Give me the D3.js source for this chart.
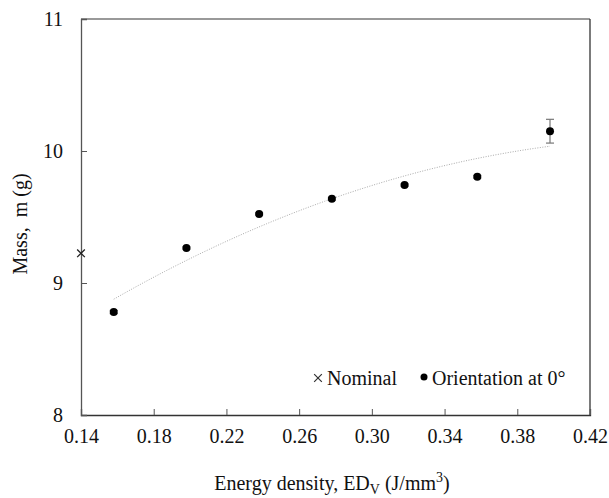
<!DOCTYPE html>
<meta charset="utf-8">
<script src="https://d3js.org/d3.v7.min.js"></script>
<body style="margin:0">
<div id="my_dataviz"></div>
<script>
    // data
    const energy = [0.158, 0.198, 0.238, 0.278, 0.318, 0.358, 0.398];
    const mass = [8.78, 9.265, 9.523, 9.638, 9.742, 9.805, 10.15];
    const massErr = [0.012, 0.008, 0.008, 0.01, 0.008, 0.01, 0.09];
    const nominal = [{ x: 0.14, y: 9.225 }];
    const xTicks = [0.14, 0.18, 0.22, 0.26, 0.30, 0.34, 0.38, 0.42];
    const yTicks = [8, 9, 10, 11];

    const FONT = "'Liberation Serif'";

    const margin = { top: 19, right: 19, bottom: 83, left: 81 },
        width = 609 - margin.left - margin.right,
        height = 498 - margin.top - margin.bottom;

    const svg = d3.select("#my_dataviz")
        .append("svg")
        .attr("width", 609)
        .attr("height", 498)
        .append("g")
        .attr("transform", `translate(${margin.left},${margin.top})`);

    const x = d3.scaleLinear().domain([0.14, 0.42]).range([0, width]);
    const y = d3.scaleLinear().domain([8, 11]).range([height, 0]);

    // helper for serif text
    function serif(sel, size) {
        return sel.style("font-family", FONT, "important")
            .style("font-size", size + "px", "important")
            .style("fill", "#111");
    }

    // frame: top and right
    svg.append("line").attr("x1", 0).attr("x2", width).attr("y1", 0).attr("y2", 0)
        .attr("stroke", "#777").attr("stroke-width", 1.3);
    svg.append("line").attr("x1", width).attr("x2", width).attr("y1", 0).attr("y2", height)
        .attr("stroke", "#333").attr("stroke-width", 1.3);

    // X axis, ticks inside
    const xAxis = svg.append("g")
        .attr("transform", `translate(0,${height})`)
        .call(d3.axisBottom(x).tickValues(xTicks).tickSize(-6).tickPadding(14).tickFormat(d3.format(".2f")));
    xAxis.attr("font-family", null).attr("font-size", null);
    xAxis.select(".domain").attr("stroke", "#333").attr("stroke-width", 1.3);
    xAxis.selectAll(".tick line").attr("stroke", "#555");
    serif(xAxis.selectAll("text"), 20);

    // Y axis, ticks inside
    const yAxis = svg.append("g")
        .call(d3.axisLeft(y).tickValues(yTicks).tickSize(-6).tickPadding(18).tickFormat(d3.format("d")));
    yAxis.attr("font-family", null).attr("font-size", null);
    yAxis.select(".domain").attr("stroke", "#555").attr("stroke-width", 1.3);
    yAxis.selectAll(".tick line").attr("stroke", "#555");
    serif(yAxis.selectAll("text"), 20);

    // quadratic trendline (least squares on the data)
    function polyFit2(xs, ys) {
        let s = [0, 0, 0, 0, 0], t = [0, 0, 0];
        xs.forEach((xi, i) => {
            for (let k = 0; k < 5; k++) s[k] += Math.pow(xi, k);
            for (let k = 0; k < 3; k++) t[k] += ys[i] * Math.pow(xi, k);
        });
        const A = [[s[0], s[1], s[2], t[0]], [s[1], s[2], s[3], t[1]], [s[2], s[3], s[4], t[2]]];
        for (let i = 0; i < 3; i++) {
            for (let j = i + 1; j < 3; j++) {
                const f = A[j][i] / A[i][i];
                for (let k = i; k < 4; k++) A[j][k] -= f * A[i][k];
            }
        }
        const c = [0, 0, 0];
        for (let i = 2; i >= 0; i--) {
            let v = A[i][3];
            for (let k = i + 1; k < 3; k++) v -= A[i][k] * c[k];
            c[i] = v / A[i][i];
        }
        return c;
    }
    const coef = polyFit2(energy, mass);
    const trend = d3.range(0, 61).map(i => {
        const xv = energy[0] + (energy[energy.length - 1] - energy[0]) * i / 60;
        return { x: xv, y: coef[0] + coef[1] * xv + coef[2] * xv * xv };
    });
    svg.append("path")
        .datum(trend)
        .attr("fill", "none")
        .attr("stroke", "#aaa")
        .attr("stroke-width", 1)
        .attr("stroke-dasharray", "1,1.5")
        .attr("d", d3.line().x(d => x(d.x)).y(d => y(d.y)));

    const data = energy.map((e, i) => ({ x: e, y: mass[i], err: massErr[i] }));

    // error bars
    const eb = svg.selectAll(".err").data(data).enter().append("g").attr("stroke", "#777").attr("stroke-width", 1.2);
    eb.append("line").attr("x1", d => x(d.x)).attr("x2", d => x(d.x))
        .attr("y1", d => y(d.y - d.err)).attr("y2", d => y(d.y + d.err));
    eb.append("line").attr("x1", d => x(d.x) - 4).attr("x2", d => x(d.x) + 4)
        .attr("y1", d => y(d.y - d.err)).attr("y2", d => y(d.y - d.err));
    eb.append("line").attr("x1", d => x(d.x) - 4).attr("x2", d => x(d.x) + 4)
        .attr("y1", d => y(d.y + d.err)).attr("y2", d => y(d.y + d.err));

    // dots
    svg.selectAll("dot")
        .data(data)
        .enter()
        .append("circle")
        .attr("cx", d => x(d.x))
        .attr("cy", d => y(d.y))
        .attr("r", 4)
        .style("fill", "#000");

    // nominal marker
    const cross = d3.symbol().type(d3.symbolX).size(40);
    svg.selectAll(".nom").data(nominal).enter().append("path")
        .attr("d", cross)
        .attr("transform", d => `translate(${x(d.x)},${y(d.y)})`)
        .attr("fill", "none").attr("stroke", "#222").attr("stroke-width", 1.3);

    // legend
    const lg = svg.append("g").attr("transform", `translate(${318 - margin.left},${378 - margin.top})`);
    lg.append("path").attr("d", cross).attr("fill", "none").attr("stroke", "#333").attr("stroke-width", 1.2);
    serif(lg.append("text").attr("x", 9).attr("y", 7), 20).text("Nominal");
    lg.append("circle").attr("cx", 106).attr("cy", -1).attr("r", 3.5).style("fill", "#000");
    serif(lg.append("text").attr("x", 114).attr("y", 7), 20).text("Orientation at 0°");

    // axis titles
    const xt = serif(svg.append("text")
        .attr("x", 332 - margin.left).attr("y", 490 - margin.top)
        .attr("text-anchor", "middle"), 20);
    xt.append("tspan").text("Energy density, ED");
    serif(xt.append("tspan").attr("dy", 4), 14).text("V");
    xt.append("tspan").attr("dy", -4).text(" (J/mm");
    serif(xt.append("tspan").attr("dy", -8), 14).text("3");
    xt.append("tspan").attr("dy", 8).text(")");

    serif(svg.append("text")
        .attr("transform", `translate(${27 - margin.left},${224 - margin.top}) rotate(-90)`)
        .attr("text-anchor", "middle"), 20)
        .style("white-space", "pre")
        .text("Mass,  m (g)");
</script>
</body>
